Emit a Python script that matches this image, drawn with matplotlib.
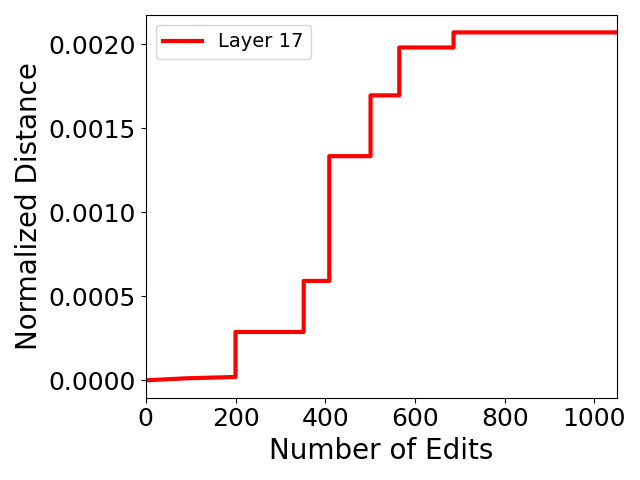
import matplotlib
matplotlib.use("Agg")
import matplotlib.pyplot as plt

# number of edits vs normalized distance
edits = [0, 90, 200, 200, 352, 352, 409, 409, 501, 501, 565, 565, 686, 686, 1050]
distance = [0.0, 0.000012, 0.00002, 0.000288, 0.000288, 0.000592, 0.000592,
            0.001335, 0.001335, 0.001697, 0.001697, 0.001982, 0.001982,
            0.002072, 0.002072]

fig, ax = plt.subplots(figsize=(6.4, 4.8), dpi=100)
ax.plot(edits, distance, color='red', linewidth=3, label='Layer 17')
ax.set_xlim(0, 1050)
ax.set_xlabel('Number of Edits', fontsize=20)
ax.set_ylabel('Normalized Distance', fontsize=20)
ax.tick_params(labelsize=18)
ax.legend(fontsize=14, loc='upper left')
fig.tight_layout()
fig.savefig('out.png')
